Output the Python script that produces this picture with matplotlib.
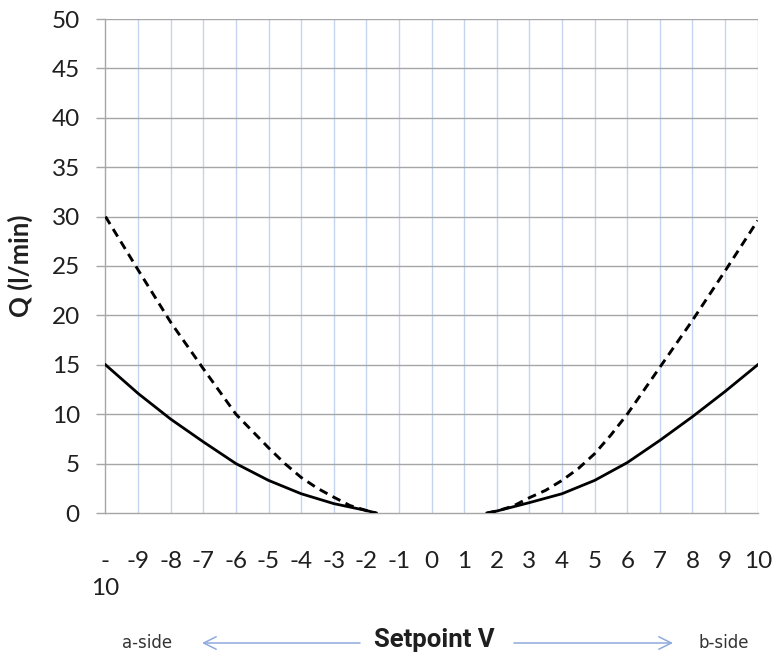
import matplotlib.pyplot as plt

setpoint_solid_a = [-10, -9, -8, -7, -6, -5, -4, -3, -2, -1.7]
q_solid_a = [15.0, 12.1, 9.5, 7.2, 5.0, 3.3, 1.95, 0.95, 0.25, 0.0]
setpoint_solid_b = [1.7, 2, 3, 4, 5, 6, 7, 8, 9, 10]
q_solid_b = [0.0, 0.2, 1.05, 1.95, 3.3, 5.1, 7.35, 9.75, 12.3, 15.0]

setpoint_dash_a = [-10, -9, -8, -7, -6, -5.5, -5, -4.5, -4, -3.5, -3, -2.5, -2, -1.7]
q_dash_a = [30.0, 24.6, 19.3, 14.6, 10.0, 8.3, 6.6, 5.0, 3.6, 2.5, 1.6, 0.75, 0.25, 0.0]
setpoint_dash_b = [1.7, 2, 2.5, 3, 3.5, 4, 4.5, 5, 5.5, 6, 7, 8, 9, 10]
q_dash_b = [0.0, 0.2, 0.7, 1.55, 2.3, 3.3, 4.5, 6.0, 7.9, 10.0, 14.75, 19.5, 24.5, 29.6]

x_ticks = list(range(-10, 11))
x_tick_labels = ['-\n10'] + [str(v) for v in range(-9, 11)]
y_ticks = list(range(0, 51, 5))

grid_gray = '#a6a6a6'
grid_blue = '#c5d4ee'
text_col = '#1f1f1f'

fig = plt.figure(figsize=(7.73, 6.57), dpi=100)
ax = fig.add_axes([105.5 / 773, 1 - 513 / 657, (757.7 - 105.5) / 773, (513 - 19) / 657])

ax.plot(setpoint_dash_a, q_dash_a, color='black', lw=2.1, dashes=(3, 2), zorder=3)
ax.plot(setpoint_dash_b, q_dash_b, color='black', lw=2.1, dashes=(3, 2), zorder=3)
ax.plot(setpoint_solid_a, q_solid_a, color='black', lw=2, zorder=4)
ax.plot(setpoint_solid_b, q_solid_b, color='black', lw=2, zorder=4)

ax.set_xlim(-10, 10)
ax.set_ylim(0, 50)

# vertical blue grid at every volt, gray horizontal grid every 5
for v in x_ticks[1:]:
    ax.axvline(v, color=grid_blue, lw=1, zorder=1)
for q in y_ticks[1:]:
    ax.axhline(q, color=grid_gray, lw=1, zorder=1)

for s in ['top', 'right']:
    ax.spines[s].set_visible(False)
for s in ['left', 'bottom']:
    ax.spines[s].set_color(grid_gray)
    ax.spines[s].set_linewidth(1)
    ax.spines[s].set_zorder(2)

ax.set_xticks(x_ticks)
ax.set_xticklabels(x_tick_labels, fontfamily='Lato', fontsize=17.5, color=text_col)
ax.set_xticks(range(-10, 11, 2), minor=True)
ax.tick_params(axis='x', which='major', length=0, pad=27)
ax.tick_params(axis='x', which='minor', length=6.5, width=1, color=grid_gray, direction='out')
for lab in ax.get_xticklabels():
    lab.set_linespacing(1.4)

ax.set_yticks(y_ticks)
ax.set_yticklabels([str(q) for q in y_ticks], fontfamily='Lato', fontsize=17.5, color=text_col)
ax.tick_params(axis='y', length=6.5, width=1, color=grid_gray, direction='out', pad=12)

ax.set_ylabel('Q (l/min)', fontfamily='Lato', fontweight='bold', fontsize=18.5, color=text_col, va='center')
ax.yaxis.set_label_coords(-0.131, 0.5)
ax.set_xlabel('Setpoint V', fontfamily='Roboto', fontweight='bold', fontsize=18.5, color=text_col, va='center')
ax.xaxis.set_label_coords(0.504, -0.257)

arrow_y = 1 - 643 / 657
arrow_col = '#8faadc'
ax.annotate('', xy=(202 / 773, arrow_y), xytext=(360 / 773, arrow_y), xycoords='figure fraction',
            arrowprops=dict(arrowstyle='->,head_length=0.9,head_width=0.45', color=arrow_col, lw=1.1,
                            shrinkA=0, shrinkB=0))
ax.annotate('', xy=(673 / 773, arrow_y), xytext=(514 / 773, arrow_y), xycoords='figure fraction',
            arrowprops=dict(arrowstyle='->,head_length=0.9,head_width=0.45', color=arrow_col, lw=1.1,
                            shrinkA=0, shrinkB=0))
fig.text(147 / 773, arrow_y, 'a-side', ha='center', va='center', fontfamily='DejaVu Sans', fontsize=12, color='#333333')
fig.text(724 / 773, arrow_y, 'b-side', ha='center', va='center', fontfamily='DejaVu Sans', fontsize=12, color='#333333')

fig.savefig('out.png', dpi=100)
